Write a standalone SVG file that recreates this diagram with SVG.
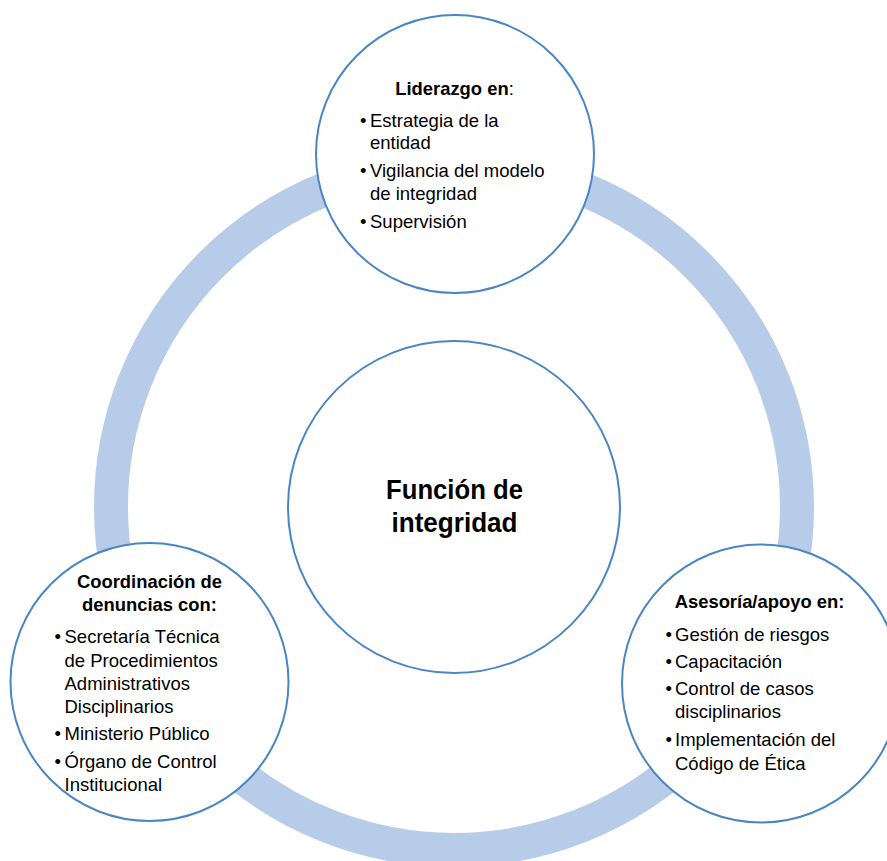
<svg xmlns="http://www.w3.org/2000/svg" width="887" height="861" viewBox="0 0 887 861">
  <style>
    .ring { fill: none; stroke: #b7cce8; stroke-width: 34; }
    .node { fill: #ffffff; stroke: #4a86c2; stroke-width: 2; }
    text { font-family: "Liberation Sans", Arial, sans-serif; fill: #000000; }
    .hd { font-size: 18.4px; font-weight: bold; }
    .bd { font-size: 18.5px; }
    .title { font-size: 28px; font-weight: bold; }
  </style>
  <rect x="0" y="0" width="887" height="861" fill="#ffffff"/>

  <!-- cycle ring linking the three satellite nodes -->
  <g id="connectors">
    <circle class="ring" cx="454" cy="507" r="343"/>
  </g>

  <g id="node-center">
    <circle class="node" cx="454" cy="507" r="166"/>
    <text class="title" x="454.5" y="499" text-anchor="middle" textLength="137" lengthAdjust="spacingAndGlyphs">Función de</text>
    <text class="title" x="454.5" y="531.5" text-anchor="middle" textLength="126" lengthAdjust="spacingAndGlyphs">integridad</text>
  </g>

  <g id="node-liderazgo">
    <circle class="node" cx="455" cy="154" r="139"/>
    <text class="hd" x="454.5" y="95" text-anchor="middle">Liderazgo en<tspan font-weight="normal">:</tspan></text>
    <text class="bd" x="360" y="127">•</text>
    <text class="bd" x="370" y="127">Estrategia de la</text>
    <text class="bd" x="370" y="149">entidad</text>
    <text class="bd" x="360" y="177">•</text>
    <text class="bd" x="370" y="177">Vigilancia del modelo</text>
    <text class="bd" x="370" y="199.5">de integridad</text>
    <text class="bd" x="360" y="228">•</text>
    <text class="bd" x="370" y="228">Supervisión</text>
  </g>

  <g id="node-coordinacion">
    <circle class="node" cx="149.5" cy="682" r="139"/>
    <text class="hd" x="149.5" y="588" text-anchor="middle">Coordinación de</text>
    <text class="hd" x="149.5" y="610.5" text-anchor="middle">denuncias con:</text>
    <text class="bd" x="54.5" y="643">•</text>
    <text class="bd" x="64.5" y="643">Secretaría Técnica</text>
    <text class="bd" x="64.5" y="666.5">de Procedimientos</text>
    <text class="bd" x="64.5" y="690">Administrativos</text>
    <text class="bd" x="64.5" y="713">Disciplinarios</text>
    <text class="bd" x="54.5" y="740">•</text>
    <text class="bd" x="64.5" y="740">Ministerio Público</text>
    <text class="bd" x="54.5" y="768">•</text>
    <text class="bd" x="64.5" y="768">Órgano de Control</text>
    <text class="bd" x="64.5" y="790.5">Institucional</text>
  </g>

  <g id="node-asesoria">
    <circle class="node" cx="761" cy="683.5" r="139"/>
    <text class="hd" x="759.5" y="608" text-anchor="middle">Asesoría/apoyo en:</text>
    <text class="bd" x="665.5" y="640.5">•</text>
    <text class="bd" x="675" y="640.5">Gestión de riesgos</text>
    <text class="bd" x="665.5" y="668">•</text>
    <text class="bd" x="675" y="668">Capacitación</text>
    <text class="bd" x="665.5" y="695">•</text>
    <text class="bd" x="675" y="695">Control de casos</text>
    <text class="bd" x="675" y="718">disciplinarios</text>
    <text class="bd" x="665.5" y="746">•</text>
    <text class="bd" x="675" y="746">Implementación del</text>
    <text class="bd" x="675" y="770">Código de Ética</text>
  </g>
</svg>
